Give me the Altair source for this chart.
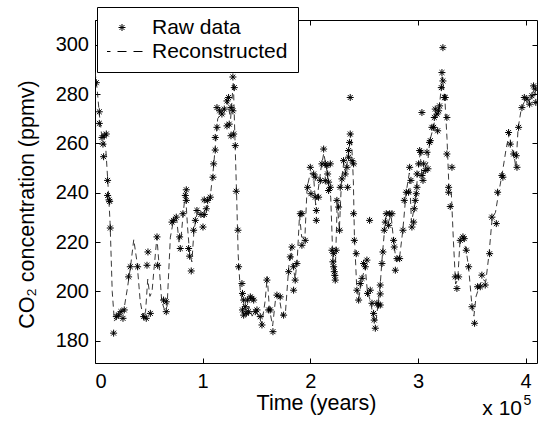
import altair as alt
import pandas as pd

# ---------------- data ----------------
raw_years = [
    1200, 4000, 4000, 6500, 7400, 8000, 8600, 10500, 11700, 11700, 13000, 13600, 14200,
    17300, 19800, 22000, 24100, 26000, 27200, 31200, 32800, 39600, 45200, 47600, 48300,
    49200, 51400, 57600, 58200, 63700, 66200, 66200, 71500, 73000, 75500, 78600, 79200,
    81700, 83900, 84800, 84800, 87000, 87900, 89400, 91600, 93200, 94700, 98400, 100300,
    101500, 101500, 103400, 104600, 107100, 109600, 110200, 111700, 111700, 113300, 113300,
    115800, 117900, 120100, 122600, 122600, 124100, 124700, 126300, 126300, 128100, 128100,
    128800, 129400, 130300, 131200, 132800, 133400,
    136500, 137000, 137000, 138100, 138100, 139600, 140500, 141800, 142700, 144300, 145800,
    147400, 148900, 150450, 153500, 155100, 159700, 161300, 162800, 165300, 169000, 172100,
    175200, 179900, 181400, 183000, 184500, 184500, 186000, 187600, 190700, 192200, 192200,
    195300, 197500, 200000, 200600, 203100, 204600, 204600, 205600, 205600, 207700, 209300,
    210800, 212400, 213900, 213900, 215500, 216100, 217000, 217000, 218600, 218600, 220100,
    221000, 221700, 221700, 222300, 222800, 223200, 224100, 224700, 226300, 227200, 227800,
    229400, 230900, 232500, 234000, 234700, 235600, 235600, 236500, 237100, 237100, 238700,
    240200, 240200, 240900, 242700, 243300, 244900, 246400, 248000, 249500, 251100, 252600,
    253200, 255100, 255700, 257300, 258800, 259400, 260400, 261900, 263400,
    265000, 265000, 265000, 266600, 267500, 268700, 269700, 270600, 272800, 273700, 275900,
    277400, 278000, 279000, 280500, 283000, 286100, 287300, 289200, 291300, 292300, 293500,
    294400, 296000, 296600, 297500, 298500, 299100, 299100, 300600, 301600, 302800, 303700,
    303700, 304700, 305300, 306800, 308400, 309300, 310800, 311500, 313000, 314600, 315200,
    316100, 317700, 318300, 319200, 320100, 321700, 322300, 323200, 323200, 324500, 325400,
    326900, 326900, 328500, 328500, 330000, 331600, 334700, 336200, 337800, 339300, 341800,
    343000, 344900, 347100, 350200, 352600, 355400, 357900, 359400, 362500, 366600, 368700,
    372800, 374000, 378000, 378900, 384200, 385800, 388900, 391300, 392000, 393500, 396600,
    398800, 401200, 403700, 405900, 407400, 409000, 409500,
]
raw_co2 = [
    284.6, 272.8, 268.1, 262.4, 259.7, 254.6, 263.1, 263.8, 245.0, 238.9, 237.1, 236.5, 225.7,
    183.1, 189.8, 190.5, 191.8, 189.1, 192.5, 205.9, 210.0, 210.0, 189.8, 189.1, 210.6,
    216.0, 191.1, 222.1, 210.6, 196.5, 195.8, 191.8, 228.1, 228.8, 230.1, 222.1, 217.4,
    231.5, 238.9, 241.2, 236.9, 217.4, 214.3, 208.3, 224.8, 228.8, 232.8, 231.2, 226.1,
    231.2, 237.1, 233.5, 236.9, 238.2, 246.3, 251.7, 257.3, 262.4, 266.5, 274.5,
    273.2, 271.9, 273.9, 277.2, 267.1, 278.6, 267.8, 274.5, 263.1, 273.2, 286.9,
    263.8, 282.6, 259.1, 240.6, 224.8, 210.0,
    203.2, 199.2, 192.5, 196.5, 190.4, 193.8, 191.1, 196.5, 191.8, 197.8, 197.2,
    196.5, 191.8, 192.5, 189.8, 186.4, 204.6, 192.5, 192.5, 183.7, 198.5, 197.8,
    190.4, 208.0, 214.0, 218.0, 210.0, 200.5, 204.6, 211.3, 231.5, 231.5, 218.7,
    220.7, 242.2, 250.3, 239.6, 247.6, 246.3, 238.2, 232.8, 228.8, 238.2, 244.9,
    251.7, 257.7, 251.7, 244.9, 251.0, 247.6, 244.3, 240.9, 242.2, 251.7, 216.7,
    212.0, 215.3, 210.0, 208.0, 206.5, 204.6, 216.7, 236.9, 234.2, 224.8, 242.2,
    245.6, 253.0, 247.6, 250.3, 242.2, 254.4, 257.1, 260.4, 263.8, 278.6, 253.0,
    251.7, 231.5, 220.7, 215.3, 200.5, 196.5, 203.2, 205.3, 211.3, 210.0, 212.7,
    199.2, 228.8, 200.5, 195.2, 191.1, 188.4, 185.1, 195.2, 194.5,
    202.6, 199.0, 194.5, 211.3, 216.0, 224.8, 228.1, 231.5, 226.8, 231.5, 231.5,
    220.7, 218.0, 208.6, 213.3, 213.3, 224.8, 236.9, 240.2, 240.2, 250.3, 245.0,
    226.1, 228.1, 233.5, 236.9, 239.6, 242.2, 247.6, 251.7, 257.1, 256.4, 247.0,
    272.5, 245.0, 251.7, 249.0, 256.4, 249.7, 260.4, 261.1, 266.5, 266.5, 270.5,
    273.9, 271.9, 265.1, 273.2, 275.2, 282.6, 288.7, 285.3, 298.8, 278.6, 278.6,
    270.5, 255.7, 242.2, 240.2, 234.4, 250.3, 205.9, 201.2, 205.9, 220.7, 222.1,
    221.4, 216.7, 210.0, 193.8, 187.1, 201.9, 201.9, 206.6, 202.6, 215.3, 230.1,
    227.5, 240.2, 247.0, 246.3, 264.4, 259.7, 255.7, 255.0, 250.3, 266.5, 274.5,
    278.6, 277.9, 275.9, 279.3, 283.3, 282.0, 276.6,
]

rec_years = [
    0, 2000, 4000, 6000, 8000, 10000, 12000, 14000, 16000, 18000, 21000, 24000, 27000,
    30000, 33000, 36000, 39000, 42000, 45000, 47000, 49000, 51000, 53000, 55000, 57500,
    60000, 62000, 65000, 67000, 70000, 73000, 76000, 78000, 80000, 82000, 84000, 86000,
    88000, 90000, 92000, 95000, 98000, 101000, 104000, 107000, 110000, 112000, 114000,
    117000, 120000, 123000, 126000, 128500, 130000, 131500, 133000, 135000, 137000,
    140000, 143000, 146000, 149000, 152000, 155000, 158000, 160000, 162000, 165000,
    168000, 171000, 174000, 177000, 180000, 182000, 184000, 186000, 188000, 190000,
    192000, 195000, 197000, 200000, 203000, 205000, 207000, 210000, 212500, 215000,
    217000, 219000, 221000, 223000, 225000, 227000, 229000, 231000, 233000, 236000,
    238000, 240000, 241000, 243000, 245000, 248000, 251000, 253000, 256000, 259000,
    261000, 263000, 265000, 267000, 270000, 272500, 275000, 278000, 280000, 283000,
    286000, 289000, 292000, 294000, 297000, 300000, 302000, 304000, 306000, 309000,
    311000, 314000, 317000, 320000, 322500, 325000, 327000, 329000, 331000, 333000,
    335000, 337000, 339000, 342000, 345000, 347000, 350000, 352000, 354000, 357000,
    360000, 363000, 366000, 369000, 372000, 375000, 378000, 382000, 385000, 387000,
    389000, 391000, 393000, 396000, 399000, 402000, 405000, 407000, 410000,
]
rec_co2 = [
    289, 282, 272, 264, 261, 258, 244, 228, 200, 188, 190, 192, 193,
    201, 210, 221, 212, 196, 189, 192, 205, 198, 200, 210, 222,
    208, 196, 192, 194, 222, 229, 229, 220, 222, 232, 240, 226,
    215, 212, 225, 232, 231, 230, 234, 238, 250, 260, 270,
    272, 274, 277, 270, 285, 262, 240, 215, 200, 196,
    192, 194, 190, 192, 190, 187, 196, 206, 193, 186,
    198, 198, 190, 192, 210, 218, 210, 205, 214, 231,
    222, 222, 242, 248, 247, 235, 240, 250, 256, 250,
    244, 238, 213, 205, 236, 225, 245, 252, 248, 258,
    264, 245, 222, 203, 197, 205, 210, 200, 196, 188,
    188, 195, 203, 215, 230, 228, 231, 218, 212, 214,
    225, 240, 248, 228, 235, 248, 256, 246, 250, 252,
    261, 266, 272, 275, 287, 278, 262, 240, 240, 220,
    203, 205, 220, 222, 216, 210, 195, 190, 198, 202,
    205, 204, 215, 230, 232, 240, 247, 258, 264, 258,
    256, 250, 266, 274, 277, 277, 278, 281, 280,
]

x_ticks = [0, 100000, 200000, 300000, 400000]
y_ticks = [180, 200, 220, 240, 260, 280, 300]
series_names = ["Raw data", "Reconstructed"]
x_title = "Time (years)"
y_title = "CO\u2082 concentration (ppmv)"
exp_base = "x 10"
exp_power = "5"

# ---------------- styling ----------------
FONT = "Liberation Sans"
X_DOMAIN = [0, 410600]
Y_DOMAIN = [171, 310]
W, H = 442, 343
ASTERISK = "M0,-1L0,1M-1,0L1,0M-0.7,-0.7L0.7,0.7M-0.7,0.7L0.7,-0.7"
DASH = "M-5.86,0L-3.29,0M-1.29,0L1.29,0M3.29,0L5.86,0"

raw_df = pd.DataFrame({"year": raw_years, "co2": raw_co2, "series": series_names[0]})
rec_df = pd.DataFrame({"year": rec_years, "co2": rec_co2})

xs = alt.Scale(domain=X_DOMAIN, nice=False, zero=False)
ys = alt.Scale(domain=Y_DOMAIN, nice=False, zero=False)

common_axis = dict(grid=False, domain=False, tickSize=5, offset=-5, tickColor="black",
                   tickWidth=1, labelFont=FONT, labelFontSize=20, labelColor="black",
                   titleFont=FONT, titleFontSize=21.5, titleColor="black",
                   titleFontWeight="normal")

line = alt.Chart(rec_df).mark_line(
    color="#222222", strokeWidth=0.9, strokeDash=[6, 4], clip=True
).encode(
    x=alt.X("year:Q", scale=xs, axis=alt.Axis(orient="top", values=x_ticks, labels=False,
                                              title=None, **common_axis)),
    y=alt.Y("co2:Q", scale=ys, axis=alt.Axis(orient="right", values=y_ticks, labels=False,
                                             title=None, **common_axis)),
)

points = alt.Chart(raw_df).mark_point(
    filled=False, color="black", strokeWidth=1, size=49, opacity=1, clip=True
).encode(
    x=alt.X("year:Q", scale=xs, axis=alt.Axis(
        orient="bottom", values=x_ticks, title=x_title,
        labelExpr="format(datum.value / 100000, 'd')", labelPadding=8,
        titleY=51, titleBaseline="alphabetic", **common_axis)),
    y=alt.Y("co2:Q", scale=ys, axis=alt.Axis(
        orient="left", values=y_ticks, title=y_title, labelPadding=6.5,
        titleX=-67, titleY=184, titleBaseline="alphabetic", **common_axis)),
    shape=alt.Shape("series:N", scale=alt.Scale(domain=series_names, range=[ASTERISK, DASH]),
                    legend=alt.Legend(
                        title=None, orient="none", legendX=2, legendY=-13,
                        padding=10, strokeColor="black", fillColor="white", cornerRadius=0,
                        labelFont=FONT, labelFontSize=21, labelColor="black",
                        labelExpr="datum.label + '  '",
                        symbolSize=49, symbolStrokeColor="black", symbolStrokeWidth=1,
                        symbolFillColor="transparent", symbolOffset=4.5, labelOffset=19.5,
                        clipHeight=21, rowPadding=2)),
)

exp_text = alt.Chart(pd.DataFrame({"t": [exp_base]})).mark_text(
    align="right", baseline="alphabetic", font=FONT, fontSize=21, color="black"
).encode(x=alt.value(427), y=alt.value(395), text="t:N")

pow_text = alt.Chart(pd.DataFrame({"t": [exp_power]})).mark_text(
    align="left", baseline="alphabetic", font=FONT, fontSize=14, color="black"
).encode(x=alt.value(428.5), y=alt.value(385), text="t:N")

chart = alt.layer(line, points, exp_text, pow_text).resolve_axis(
    x="independent", y="independent"
).properties(
    width=W, height=H,
    padding={"left": 95, "top": 20, "right": 7, "bottom": 62},
    autosize=alt.AutoSizeParams(type="none"),
    background="white",
).configure_view(stroke="black", strokeWidth=1, fill="white")

chart.save("out.html", embed_options={"renderer": "svg", "actions": False})
